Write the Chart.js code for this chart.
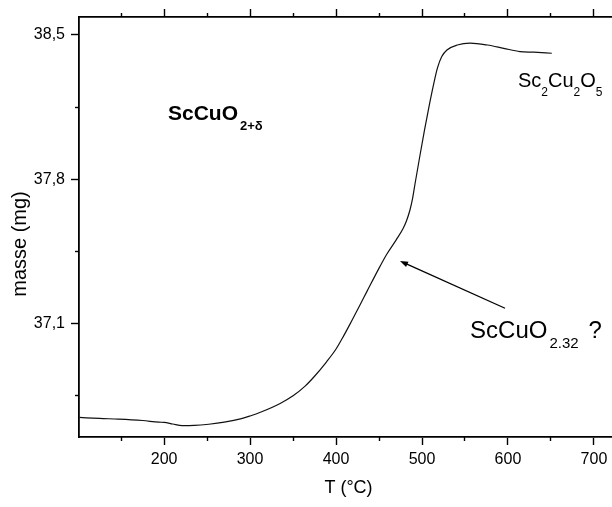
<!DOCTYPE html>
<html>
<head>
<meta charset="utf-8">
<script src="https://cdn.jsdelivr.net/npm/chart.js@4"></script>
<style>
  html, body { margin: 0; padding: 0; background: #fff; overflow: hidden; }
  #wrap { width: 612px; height: 507px; overflow: hidden; }
</style>
</head>
<body>
<div id="wrap"><canvas id="tga" width="620" height="507"></canvas></div>
<script>
// TGA trace
const tempC = [101.5, 125, 147, 175, 194, 200, 210, 221, 235, 252, 270, 290, 300, 312, 335, 350, 364, 375, 389, 400, 409, 418, 428, 436, 451, 459, 470, 478, 482, 486, 489, 492, 497, 503, 509, 514, 518, 523, 529, 541, 556, 576, 595, 614, 630, 651];
const masse = [36.643, 36.638, 36.635, 36.628, 36.620, 36.619, 36.611, 36.603, 36.604, 36.610, 36.620, 36.637, 36.650, 36.668, 36.711, 36.748, 36.795, 36.843, 36.913, 36.975, 37.040, 37.110, 37.190, 37.255, 37.375, 37.435, 37.505, 37.560, 37.598, 37.650, 37.705, 37.780, 37.900, 38.040, 38.170, 38.270, 38.340, 38.395, 38.427, 38.451, 38.460, 38.451, 38.435, 38.419, 38.416, 38.411];

const xMajorTicks = [200, 300, 400, 500, 600, 700];
const xMajorLabels = ['200', '300', '400', '500', '600', '700'];
const xMinorTicks = [150, 250, 350, 450, 550, 650];
const yMajorTicks = [37.1, 37.8, 38.5];
const yMajorLabels = ['37,1', '37,8', '38,5'];
const yMinorTicks = [36.75, 37.45, 38.15];

const xRange = [101, 728];
const yRange = [36.548, 38.587];

const fontFam = "'Liberation Sans', Arial, Helvetica, sans-serif";

// annotation anchors in data units
const noteStart = { T: 204.5, m: 38.089 };
const noteEnd = { T: 611.7, m: 38.249 };
const noteMid = { T: 555.9, m: 37.027 };
const arrowFrom = { T: 596.6, m: 37.173 };
const arrowTo = { T: 474.4, m: 37.402 };

function setTicks(list) {
  return s => { s.ticks = list.map(v => ({ value: v })); };
}

function axis(pos, range, ticks, opts) {
  const horiz = pos === 'top' || pos === 'bottom';
  return {
    type: 'linear',
    position: pos,
    min: range[0],
    max: range[1],
    weight: opts.weight,
    afterBuildTicks: setTicks(ticks),
    afterFit: s => { if (horiz) s.height = opts.size; else s.width = opts.size; },
    grid: { drawOnChartArea: false, drawTicks: true, tickLength: opts.tick, tickWidth: 1.4, tickColor: '#000' },
    border: { display: !!opts.border, color: '#000', width: 1.8 },
    ticks: opts.labels ? {
      display: true, color: '#000', padding: opts.pad, autoSkip: false, maxRotation: 0,
      font: { family: fontFam, size: 16 },
      callback: (v, i) => opts.labels[i]
    } : { display: false }
  };
}

function runs(ctx, x, y, parts) {
  let cx = x;
  parts.forEach(p => {
    ctx.font = (p.bold ? 'bold ' : '') + p.size + 'px ' + fontFam;
    cx += (p.gap || 0);
    ctx.fillText(p.text, cx, y + (p.dy || 0));
    cx += ctx.measureText(p.text).width;
  });
}

const notesPlugin = {
  id: 'notes',
  afterDraw(chart) {
    const ctx = chart.ctx;
    const xs = chart.scales.x, ys = chart.scales.y;
    const px = T => xs.getPixelForValue(T);
    const py = m => ys.getPixelForValue(m);
    ctx.save();
    ctx.fillStyle = '#000';
    ctx.textAlign = 'left';
    ctx.textBaseline = 'alphabetic';

    runs(ctx, px(noteStart.T), py(noteStart.m), [
      { text: 'ScCuO', size: 21, bold: true },
      { text: '2+\u03b4', size: 13, bold: true, dy: 10.5, gap: 2 }
    ]);
    runs(ctx, px(noteEnd.T), py(noteEnd.m), [
      { text: 'Sc', size: 20 },
      { text: '2', size: 12, dy: 9 },
      { text: 'Cu', size: 20 },
      { text: '2', size: 12, dy: 9 },
      { text: 'O', size: 20 },
      { text: '5', size: 12, dy: 9 }
    ]);
    runs(ctx, px(noteMid.T), py(noteMid.m), [
      { text: 'ScCuO', size: 24 },
      { text: '2.32', size: 15, dy: 10, gap: 2 },
      { text: '?', size: 24, gap: 10 }
    ]);

    // arrow
    const x1 = px(arrowFrom.T), y1 = py(arrowFrom.m);
    const x2 = px(arrowTo.T), y2 = py(arrowTo.m);
    const a = Math.atan2(y2 - y1, x2 - x1);
    const hl = 8, hw = 3;
    ctx.strokeStyle = '#000';
    ctx.lineWidth = 1.3;
    ctx.beginPath();
    ctx.moveTo(x1, y1);
    ctx.lineTo(x2 - Math.cos(a) * hl * 0.8, y2 - Math.sin(a) * hl * 0.8);
    ctx.stroke();
    ctx.beginPath();
    ctx.moveTo(x2, y2);
    ctx.lineTo(x2 - Math.cos(a) * hl - Math.sin(a) * hw, y2 - Math.sin(a) * hl + Math.cos(a) * hw);
    ctx.lineTo(x2 - Math.cos(a) * hl + Math.sin(a) * hw, y2 - Math.sin(a) * hl - Math.cos(a) * hw);
    ctx.closePath();
    ctx.fill();

    // axis titles
    const area = chart.chartArea;
    ctx.font = '18px ' + fontFam;
    ctx.textAlign = 'center';
    ctx.fillText('T (\u00b0C)', (area.left + area.right) / 2, 493);
    ctx.save();
    ctx.translate(25.5, 244);
    ctx.rotate(-Math.PI / 2);
    ctx.font = '20px ' + fontFam;
    ctx.fillText('masse (mg)', 0, 0);
    ctx.restore();
    ctx.restore();
  }
};

new Chart(document.getElementById('tga'), {
  type: 'line',
  data: {
    datasets: [{
      data: tempC.map((t, i) => ({ x: t, y: masse[i] })),
      borderColor: '#111',
      borderWidth: 1.2,
      pointRadius: 0,
      fill: false,
      cubicInterpolationMode: 'monotone'
    }]
  },
  options: {
    responsive: false,
    animation: false,
    devicePixelRatio: 1,
    layout: { padding: 0 },
    plugins: { legend: { display: false }, tooltip: { enabled: false } },
    scales: {
      x: axis('bottom', xRange, xMajorTicks, { weight: 10, size: 70, tick: 8, border: true, labels: xMajorLabels, pad: 5 }),
      xMinor: axis('bottom', xRange, xMinorTicks, { weight: 0, size: 0, tick: 4 }),
      xTop: axis('top', xRange, xMajorTicks, { weight: 10, size: 17, tick: 8, border: true }),
      xTopMinor: axis('top', xRange, xMinorTicks, { weight: 0, size: 0, tick: 4 }),
      y: axis('left', yRange, yMajorTicks, { weight: 10, size: 79, tick: 8, border: true, labels: yMajorLabels, pad: 6 }),
      yMinor: axis('left', yRange, yMinorTicks, { weight: 0, size: 0, tick: 4 }),
      yRight: axis('right', yRange, yMajorTicks, { weight: 10, size: 2, tick: 8, border: true })
    }
  },
  plugins: [notesPlugin]
});
</script>
</body>
</html>
